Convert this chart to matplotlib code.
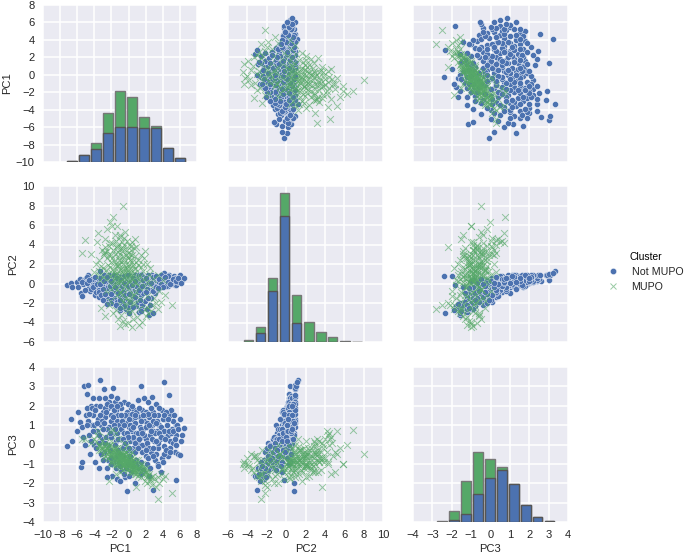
import matplotlib
matplotlib.use('Agg')
import matplotlib.pyplot as plt

plt.rcParams['font.family'] = ['Liberation Sans', 'DejaVu Sans']

names = ['PC1', 'PC2', 'PC3']
ticks = [[-10, -8, -6, -4, -2, 0, 2, 4, 6, 8],
         [-6, -4, -2, 0, 2, 4, 6, 8, 10],
         [-4, -3, -2, -1, 0, 1, 2, 3, 4]]
labels = ['Not MUPO', 'MUPO']

# points, same index = same sample in all 3 lists
not_pc1 = [-7.2, -6.7, -6.6, -6.0, -5.9, -5.7, -5.6, -5.4, -5.2, -5.0,
           -4.8, -4.7, -4.6, -4.5, -4.4, -4.3, -4.2, -4.1, -4.0, -3.9,
           -3.8, -3.7, -3.6, -3.5, -3.4, -3.3, -3.2, -3.1, -3.0, -2.9,
           -2.8, -2.7, -2.6, -2.5, -2.4, -2.3, -2.2, -2.1, -2.0, -1.9,
           -1.85, -1.8, -1.7, -1.6, -1.55, -1.5, -1.4, -1.35, -1.3, -1.2,
           -1.1, -1.0, -0.9, -0.85, -0.8, -0.7, -0.6, -0.55, -0.5, -0.4,
           -0.35, -0.3, -0.2, -0.15, -0.1, 0.0, 0.05, 0.1, 0.2, 0.25,
           0.3, 0.4, 0.45, 0.5, 0.6, 0.65, 0.7, 0.8, 0.85, 0.9,
           1.0, 1.05, 1.1, 1.2, 1.3, 1.35, 1.4, 1.5, 1.55, 1.6,
           1.7, 1.8, 1.85, 1.9, 2.0, 2.05, 2.1, 2.2, 2.3, 2.35,
           2.4, 2.5, 2.6, 2.7, 2.75, 2.8, 2.9, 3.0, 3.05, 3.1,
           3.2, 3.3, 3.4, 3.5, 3.6, 3.7, 3.8, 3.9, 4.0, 4.1,
           4.2, 4.3, 4.4, 4.5, 4.6, 4.7, 4.8, 4.9, 5.0, 5.1,
           5.2, 5.3, 5.4, 5.5, 5.55, 5.6, 5.8, 6.0, 6.0, 6.3, 6.5,
           -5.3, -4.9, -4.7, -4.3, -4.0, -3.8, -3.5, -3.3, -3.1, -2.9,
           -2.7, -2.5, -2.4, -2.3, -2.1, -2.0, -1.9, -1.7, -1.6, -1.5,
           -1.4, -1.2, -1.1, -1.0, -0.9, -0.8, -0.7, -0.5, -0.4, -0.3,
           -0.2, -0.1, 0.0, 0.1, 0.2, 0.3, 0.4, 0.5, 0.6, 0.7,
           0.8, 0.9, 1.0, 1.1, 1.2, 1.3, 1.4, 1.5, 1.6, 1.7,
           1.8, 1.9, 2.0, 2.1, 2.2, 2.3, 2.4, 2.5, 2.6, 2.7,
           2.8, 2.9, 3.0, 3.1, 3.2, 3.3, 3.5, 3.6, 3.8, 3.9,
           4.0, 4.1, 4.2, 4.4, 4.6, 4.8, 5.0, 5.2, 5.4, 5.7,
           -5.5, -5.1, -4.9, -4.6, -4.4, -4.2, -3.9, -3.7, -3.4, -3.2,
           -3.0, -2.8, -2.6, -2.4, -2.2, -2.0, -1.8, -1.6, -1.4, -1.2,
           -3.3, -2.9, -2.5, -2.1, -1.7, -1.3, -0.9, -0.5, -0.1, 0.3,
           -1.0, -0.7, -0.4, -0.1, 0.2, 0.5, 0.8, 1.1, 1.4, 1.7,
           0.0, 0.4, 0.8, 1.2, 1.6, 2.0, 2.4, 2.8, 3.2, 3.6,
           2.0, 2.3, 2.6, 2.9, 3.2, 3.5, 3.8, 4.1, 4.4, 4.7,
           4.0, 4.3, 4.6, 4.9, 5.2, 5.5, 5.8, 6.1, -1.0, 0.0,
           -2.0, -1.5, -0.5, 0.5, 1.5, 2.5, 3.5, -3.0, -2.5, -1.0]
not_pc2 = [-0.2, 0.1, -0.4, 0.2, -0.4, 0.5, -1.0, -1.3, 0.4, 0.6,
           0.3, 0.9, -0.5, -0.8, 0.1, -0.2, 0.5, -0.1, -0.7, -1.2,
           0.2, -0.6, 0.1, -1.4, 0.3, 1.27, -0.4, -1.0, -0.2, 0.9,
           0.4, -0.3, -1.2, -1.8, 0.0, -0.5, -1.0, 0.5, -0.2, -2.0,
           0.9, -0.6, -1.5, 0.2, -0.2, -0.9, -2.3, 0.3, 0.4, -1.1,
           -0.4, -1.4, -1.9, 0.1, 0.4, -1.6, 0.6, 0.3, -0.8, -2.5,
           0.7, -0.5, 0.8, 0.5, -1.8, -0.2, -2.0, 0.2, 0.6, 0.8,
           -2.5, -0.6, 0.1, -1.5, 0.5, 0.5, 0.8, 0.9, -0.9, -2.3,
           0.1, -1.9, 0.7, -2.9, 0.3, -0.3, 1.0, -1.2, -2.2, 0.7,
           -0.5, 0.6, 0.4, -1.8, 0.2, 0.1, -2.6, -0.1, 0.8, -3.2,
           0.6, -0.7, -1.5, 0.9, -0.1, -3.0, 0.3, -0.2, 0.8, -1.0,
           0.4, 0.1, -0.5, 0.7, -0.1, 0.3, -0.4, 0.8, 0.5, 1.1,
           0.0, 0.6, 0.2, -0.2, -0.3, 0.9, 0.5, 0.6, 0.7, 0.2,
           0.1, 0.8, -0.2, 0.4, -0.2, 0.6, 0.2, 0.3, 0.9, 0.4, 0.6,
           -0.1, 0.7, 0.3, 0.5, -0.2, -0.9, -0.7, 0.6, -0.2, -1.0,
           0.5, -0.5, -1.6, 0.9, 0.2, -1.1, 0.6, 0.5, -1.7, -0.3,
           0.7, 0.8, -2.2, 0.7, -0.7, -0.3, -2.0, 0.8, -0.1, -2.6,
           0.2, 0.9, -0.6, -0.4, -1.0, 0.3, 0.6, -1.3, 0.4, 0.5,
           -0.1, -0.3, 0.3, 0.6, 0.9, -1.7, -0.8, 0.9, 0.5, -1.0,
           0.7, -0.2, -0.6, 0.7, -0.6, 0.9, 0.4, 0.5, 0.2, 0.6,
           0.5, 0.3, 0.2, -0.3, 0.4, 0.5, 0.6, 0.2, 0.9, 0.1,
           0.3, 0.5, -0.1, 0.4, 0.8, 0.1, -0.1, 0.3, 0.6, 0.5,
           0.2, -0.7, 0.1, 0.4, -0.6, -0.4, 0.7, -0.1, -0.9, -1.2,
           -0.6, -1.1, 0.3, -1.9, -0.3, -1.7, 0.1, -0.4, -1.9, -1.0,
           0.0, 0.3, 0.7, 0.3, 0.9, 0.6, 0.4, 0.1, -0.3, 0.2,
           -1.7, -0.9, -1.2, -2.4, -1.9, 0.6, -1.4, -0.9, -2.6, 0.4,
           -1.1, -0.2, 0.3, -0.7, -0.3, 0.6, 0.1, 0.7, 0.8, 0.5,
           -0.9, -1.5, 0.1, -0.8, -0.4, -0.6, 0.0, 0.6, -0.3, 0.2,
           -0.4, 0.7, 0.2, -0.1, 0.5, 0.3, 0.6, 0.1, -2.7, -3.0,
           -2.0, -2.2, -2.3, -2.4, -2.8, -2.2, -0.5, -1.7, -2.1, -2.5]
not_pc3 = [-0.1, 1.3, 0.2, 0.7, 1.7, 1.15, -1.15, -0.9, 3.0, 1.5,
           2.6, 3.05, 0.5, -0.5, 2.0, 1.0, 2.4, 1.5, 0.0, -0.9,
           2.0, 0.7, 1.3, -1.2, 2.4, 3.35, 1.0, 0.3, 1.7, 2.85,
           2.4, 1.4, 0.4, -1.2, 1.9, 0.9, -0.3, 2.5, 1.2, -1.6,
           2.9, 0.6, -0.9, 2.2, 1.6, 0.2, -1.8, 1.2, 2.4, -0.3,
           1.0, 0.3, -1.3, 1.9, 0.7, -0.6, 1.4, 2.2, 0.0, -1.7,
           1.1, 0.5, -2.4, 1.7, -0.3, 0.9, -0.9, 1.5, 0.2, 1.9,
           -1.4, 0.7, 1.3, -0.2, 1.8, 0.3, -2.0, 1.1, 0.6, -0.8,
           1.6, 0.1, 2.3, -1.2, 0.9, 1.4, 3.0, 0.4, -0.4, 1.8,
           0.8, 2.4, 1.2, -0.1, 0.3, 1.7, -1.0, 0.9, 2.2, -1.6,
           1.4, 0.5, -0.4, 2.45, 1.0, -2.35, 1.7, 0.2, 1.2, -0.8,
           2.1, 0.7, -0.2, 1.5, 1.0, 0.3, -1.4, 1.8, 0.7, 3.25,
           -0.1, 1.3, 0.4, 1.0, -0.6, 2.55, 1.5, 0.2, 1.8, 0.8,
           0.1, 1.5, -0.4, 1.0, -1.85, 0.5, -0.5, -0.55, 1.3, 0.5, 0.85,
           0.4, 1.9, 1.2, 1.9, 1.0, -0.2, 0.5, 2.0, 1.2, -0.4,
           1.9, 0.8, 0.0, 2.2, 1.5, 0.4, 2.0, 1.0, 0.0, 1.8,
           0.6, 1.5, -0.9, 2.1, 0.8, 1.2, -0.2, 0.6, 1.5, -1.2,
           0.6, 2.1, 1.3, -0.6, 1.0, -0.3, 2.0, 0.4, -0.9, 1.4,
           0.1, 1.7, -1.0, 0.6, 1.9, -0.1, 0.8, 1.2, 0.0, -1.3,
           0.5, 1.5, -0.6, 1.1, 0.1, 1.6, -0.2, 0.9, 1.9, 0.3,
           0.7, -0.2, 1.5, 0.6, -0.5, 1.2, 0.1, 1.9, 0.9, -0.7,
           1.3, -0.5, 0.7, 1.7, 0.5, -0.2, 0.6, 1.2, 0.3, 1.0,
           0.9, 0.0, 1.0, 1.6, 0.2, 0.7, 1.8, 1.1, 0.1, -0.5,
           0.8, 0.1, 1.7, -0.8, 0.6, -0.7, 1.4, 0.8, -0.6, 0.3,
           1.5, 1.1, 2.1, 2.0, 1.8, 2.0, 1.5, 1.0, 0.4, 0.8,
           -0.5, 0.3, 0.1, -1.0, -0.6, 0.9, -0.4, -0.2, -0.9, 1.5,
           -0.2, 1.6, 1.5, 0.3, 0.6, 0.9, 1.0, 1.2, 1.1, 0.6,
           -0.3, -0.7, 0.7, -0.6, 0.2, -1.0, 0.4, 1.5, -0.3, 0.7,
           -0.9, 0.3, 1.3, -0.4, 0.7, 0.0, 0.8, 0.2, -1.9, -1.6,
           -1.0, -1.2, -1.5, -1.1, -1.5, -1.2, -1.1, -0.8, -1.7, -1.1]

mupo_pc1 = [-0.6, -1.85, -2.15, -5.1, -5.5, 3.5, 5.1, -1.3, -2.5, -3.6,
            -4.4, -4.0, -3.7, -3.5, -3.3, -3.1, -3.0, -2.8, -2.6, -2.5,
            -2.4, -2.3, -2.2, -2.1, -2.0, -1.9, -1.8, -1.7, -1.6, -1.5,
            -1.45, -1.4, -1.3, -1.25, -1.2, -1.15, -1.1, -1.05, -1.0, -0.95,
            -0.9, -0.85, -0.8, -0.75, -0.7, -0.65, -0.6, -0.55, -0.5, -0.45,
            -0.4, -0.35, -0.3, -0.25, -0.2, -0.15, -0.1, -0.05, 0.0, 0.05,
            0.1, 0.15, 0.2, 0.25, 0.3, 0.35, 0.4, 0.45, 0.5, 0.6,
            0.7, 0.8, 0.9, 1.0, 1.1, 1.2, 1.3, 1.4, 1.5, 1.6,
            1.7, 1.8, 1.9, 2.0, 2.1, 2.2, 2.3, 2.4, 2.5, 2.7,
            2.9, 3.0, 3.2, 3.4, 3.6, 3.8, 4.0, 4.3, -3.2, -2.7,
            -2.2, -1.5, -1.0, -0.5, 0.0, 0.4, 0.9, -2.8, -1.9, -1.2,
            -1.8, -1.0, -0.6, -0.1, 0.5, 1.2, 2.0, 2.6, -2.3, -1.5,
            -2.0, -1.7, -1.4, -1.1, -0.8, -0.5, -0.2, 0.1, 0.4, 0.7,
            -1.9, -1.6, -1.3, -1.0, -0.7, -0.4, -0.1, 0.2, 0.5, 0.8,
            -3.5, -3.2, -2.9, -2.6, -2.3, -1.0, -0.6, 0.3, 1.1, 1.9,
            -3.8, -3.4, -3.0, -2.7, -2.4, -2.1, -1.8, -1.5, -1.2, -0.9,
            -0.6, -0.3, 0.0, 0.3, 0.6, 0.9, 1.2, 1.5, 1.8, 2.1,
            -2.6, -2.2, -1.8, -1.4, -1.0, -0.6, -0.2, 0.2, 0.6, 1.0,
            -2.9, -2.5, -2.1, -1.7, -1.3, -0.9, -0.5, -0.1, 0.3, 0.7,
            -1.1, -0.7, -0.3, 0.1, 0.5, 0.9, 1.3, 1.7, 2.1, 2.5,
            -1.6, -1.2, -0.8, -0.4, 0.0, 0.4, 0.8, 1.2, -0.9, -0.1,
            -1.5, -1.1, -0.7, -0.3, 0.1, 0.5, -1.9, -1.4, -0.2, 0.4]
mupo_pc2 = [8.0, 6.86, 6.28, 4.48, 3.17, -2.6, -2.2, 5.9, 5.6, 5.2,
            3.0, 1.2, 4.3, 2.4, 0.4, 3.4, 1.6, 4.6, -0.8, 2.6,
            1.0, 3.8, -1.8, 2.2, 0.2, 4.2, 1.5, -0.4, 3.0, 2.0,
            0.6, 3.6, -1.2, 1.8, -3.6, 2.7, 0.9, 4.8, -0.2, 1.4,
            2.3, 0.3, 3.3, -2.4, 1.1, -0.7, 2.8, 0.6, 4.0, 1.6,
            -4.2, 2.0, 0.1, -1.5, 3.4, 1.2, -0.5, 2.6, 0.8, -3.0,
            1.8, 0.4, 3.0, -1.0, 1.4, -4.5, 2.2, 0.7, -2.0, 3.6,
            0.2, 1.6, -0.9, -3.4, 2.4, 0.9, -1.6, 2.9, 0.3, -3.9,
            1.3, -0.4, -2.6, 0.6, 2.0, -1.3, -3.0, 1.0, -0.2, -2.2,
            0.5, -1.5, -2.0, 0.9, -0.8, -1.9, 0.4, -1.2, -2.5, -3.3,
            4.2, 4.4, 5.0, 4.7, 3.9, 4.3, 3.7, 3.2, 5.9, 4.0,
            -3.0, -4.4, -3.8, -4.0, -3.6, -4.3, -3.3, -2.8, -2.2, -2.7,
            0.8, 1.2, 1.8, 2.4, 0.5, 1.0, 1.6, 0.2, 0.9, 1.5,
            2.6, -0.1, 0.4, 3.0, 2.0, -0.3, 3.1, 2.4, 0.5, 2.8,
            0.9, 1.8, 2.9, 0.5, 2.9, -0.9, 1.3, -1.3, 1.9, 3.3,
            2.0, 1.3, 0.7, 3.7, 1.9, -0.6, 3.4, 0.9, 1.3, -1.7,
            3.6, 2.9, 2.0, 3.4, 1.1, 2.2, -0.4, 1.7, 2.6, -2.4,
            1.4, 1.7, 0.4, -0.6, 0.3, -1.1, 0.6, 1.1, -1.2, 0.6,
            3.1, 3.3, 2.9, 2.3, 3.8, 3.6, 2.4, 1.4, 3.8, 4.6,
            -1.0, -1.8, -2.3, -1.7, -0.2, 0.1, 0.7, 2.0, 0.2, 1.6,
            5.0, 3.2, 4.3, 5.3, -1.9, -2.8, -2.0, -2.6, -3.2, -2.7,
            1.0, 2.0, 1.5, 0.5, 2.7, 1.9, 1.1, 0.2, 4.4, 2.9]
mupo_pc3 = [-0.5, 0.77, -0.05, 0.3, 0.3, -2.8, -2.5, -1.0, -0.2, 0.7,
            0.1, 0.3, 0.5, -0.3, -0.1, 0.2, -0.5, 0.4, 0.0, -0.2,
            -0.7, 0.0, -0.3, -0.5, -0.9, -0.4, -0.3, -0.6, -1.0, -0.5,
            -0.8, -0.4, -0.2, -0.7, -0.5, -1.0, -0.4, -0.6, -0.7, -1.1,
            -0.5, -0.9, -0.8, -1.0, -0.6, -0.5, -1.1, -0.8, -0.7, -0.9,
            -1.0, -0.6, -1.2, -0.4, -0.9, -1.0, -0.7, -1.3, -0.8, -0.6,
            -1.2, -0.9, -1.4, -1.0, -0.7, -1.0, -1.1, -1.4, -0.8, -1.3,
            -1.1, -1.0, -1.5, -1.2, -1.6, -1.3, -1.1, -1.3, -1.7, -1.0,
            -1.5, -1.3, -1.9, -1.2, -1.7, -2.0, -1.6, -1.5, -1.8, -2.1,
            -1.6, -1.8, -2.2, -1.7, -2.0, -1.5, -1.8, -1.6, -0.3, -0.6,
            0.7, 0.6, -1.4, 0.1, -0.9, -1.0, -2.2, -0.4, -1.0, 0.3,
            -0.8, -0.9, -1.1, -0.7, -1.3, -1.2, -1.4, -1.7, -1.9, -1.5,
            -0.4, -0.7, -0.6, -0.9, -0.7, -1.0, -0.7, -1.1, -1.2, -0.9,
            -0.6, -0.2, -1.0, -0.5, -1.0, -1.2, -0.5, -0.8, -1.0, -1.4,
            0.0, -0.2, -0.7, -0.2, -0.1, -0.9, -0.3, -1.2, -0.8, -1.4,
            0.2, -0.1, -0.2, 0.1, -0.4, -0.5, -0.7, -0.5, -0.8, -0.6,
            -0.8, -0.9, -1.0, -0.9, -1.2, -1.1, -1.2, -1.4, -1.2, -1.5,
            -0.3, -0.6, -0.5, -0.5, -0.8, -0.8, -1.0, -0.9, -1.3, -1.3,
            -0.1, -0.5, 0.2, -0.2, -0.2, -0.7, -1.1, -0.3, -0.7, -1.5,
            -0.6, -0.7, -0.8, -0.9, -1.4, -0.8, -1.0, -1.1, -1.4, -1.9,
            -0.4, -0.3, -0.9, -0.5, -1.0, -0.9, -1.3, -1.5, -0.6, -1.2,
            -0.8, -0.6, -1.3, -0.8, -0.6, -1.1, -0.9, -1.1, 0.0, -0.4]

# histogram bars: bar centres, bar width, heights (blue part and blue+green)
bin_pc1 = [-6.6, -5.2, -3.8, -2.4, -1.0, 0.4, 1.8, 3.2, 4.6, 6.0]
not_hist1 = [2, 22, 38, 88, 106, 104, 102, 101, 42, 11]
all_hist1 = [2, 22, 57, 147, 214, 194, 134, 109, 42, 11]
bin_pc2 = [-3.9, -2.65, -1.4, -0.16, 1.08, 2.33, 3.57, 4.8, 6.05, 7.3]
not_hist2 = [0, 27, 153, 381, 58, 1, 0, 0, 0, 0]
all_hist2 = [6, 44, 192, 450, 142, 60, 31, 15, 2, 1]
bin_pc3 = [-2.49, -1.87, -1.26, -0.64, -0.03, 0.59, 1.2, 1.82, 2.43, 3.05]
not_hist3 = [0, 5, 25, 85, 133, 157, 114, 53, 15, 2]
all_hist3 = [3, 32, 123, 212, 190, 166, 114, 53, 15, 2]
bar_width = [1.13, 1.0, 0.5]

not_pts = [not_pc1, not_pc2, not_pc3]
mupo_pts = [mupo_pc1, mupo_pc2, mupo_pc3]
bins = [bin_pc1, bin_pc2, bin_pc3]
not_hist = [not_hist1, not_hist2, not_hist3]
all_hist = [all_hist1, all_hist2, all_hist3]

blue = '#4C72B0'
green = '#55A868'
txt = '#262626'
W, H = 685, 555
xbox = [(43, 197), (228, 383), (413, 568)]
ybox = [(5, 162), (186, 342), (367, 522)]

fig = plt.figure(figsize=(W/100, H/100), dpi=100, facecolor='white')

for r in range(3):
    for c in range(3):
        x0, x1 = xbox[c]
        y0, y1 = ybox[r]
        ax = fig.add_axes([x0/W, 1-y1/H, (x1-x0)/W, (y1-y0)/H], facecolor='#EAEAF2')
        ax.set_xlim(ticks[c][0], ticks[c][-1])
        ax.set_ylim(ticks[r][0], ticks[r][-1])
        ax.set_xticks(ticks[c])
        ax.set_yticks(ticks[r])
        ax.grid(True, color='white', lw=1.1)
        ax.set_axisbelow(True)
        for s in ax.spines.values():
            s.set_visible(False)
        ax.tick_params(length=0, labelsize=8, labelcolor=txt, pad=6,
                       labelbottom=(r == 2), labelleft=(c == 0))
        if c == 0:
            ax.set_ylabel(names[r], fontsize=8, color=txt, labelpad=3)
        if r == 2:
            ax.set_xlabel(names[c], fontsize=8, color=txt, labelpad=3)
        if r == c:
            # heights have their own scale, the axis ticks belong to the row
            ax2 = ax.twinx()
            ax2.set_ylim(0, 470)
            ax2.set_yticks([])
            for s in ax2.spines.values():
                s.set_visible(False)
            ax2.bar(bins[c], all_hist[c], bar_width[c], color=green, edgecolor='#777777', lw=1)
            ax2.bar(bins[c], not_hist[c], bar_width[c], color=blue, edgecolor='#555555', lw=1)
        else:
            ax.scatter(not_pts[c], not_pts[r], s=19, color=blue, edgecolor='white', linewidth=0.3)
            ax.scatter(mupo_pts[c], mupo_pts[r], s=24, color=green, marker='x', linewidth=0.7, alpha=0.6)

h1 = plt.Line2D([], [], ls='', marker='o', ms=4.5, color=blue, mec='white', mew=0.3)
h2 = plt.Line2D([], [], ls='', marker='x', ms=4.5, color=green, mew=0.7, alpha=0.6)
fig.legend([h1, h2], labels, title='Cluster', frameon=False, fontsize=7.7, title_fontsize=7.4,
           loc='center left', bbox_to_anchor=(608/W, 1-272/H), borderaxespad=0, borderpad=0,
           handlelength=1.0, handletextpad=1.2, labelspacing=0.45, labelcolor=txt)

fig.savefig('out.png', dpi=100)
